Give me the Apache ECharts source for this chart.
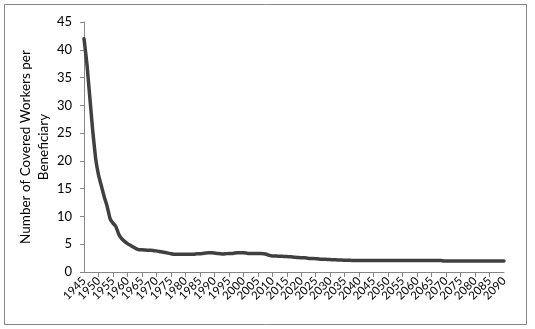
<!DOCTYPE html>
<html>
<head>
<meta charset="utf-8">
<script src="https://cdn.jsdelivr.net/npm/echarts@6/dist/echarts.min.js"></script>
<style>
html,body{margin:0;padding:0;background:#fff;}
#chart{width:535px;height:329px;}
</style>
</head>
<body>
<div id="chart"></div>
<script>
// Years 1945..2090 (yearly)
var years = [];
for (var y = 1945; y <= 2090; y++) years.push(String(y));

// Covered workers per beneficiary
var workersPerBeneficiary = [
  42.0, 37.5, 31.5, 25.5, 20.5, 17.5, 15.5, 13.5, 11.8, 9.6,   // 1945-1954
  8.8, 8.2, 6.8, 6.0, 5.5, 5.1, 4.8, 4.5, 4.2, 4.0,             // 1955-1964
  4.0, 3.95, 3.9, 3.9, 3.85, 3.8, 3.7, 3.6, 3.5, 3.4,           // 1965-1974
  3.3, 3.2, 3.2, 3.2, 3.2, 3.2, 3.2, 3.2, 3.2, 3.3,             // 1975-1984
  3.3, 3.35, 3.4, 3.45, 3.45, 3.4, 3.35, 3.3, 3.25, 3.3,        // 1985-1994
  3.35, 3.35, 3.4, 3.45, 3.45, 3.45, 3.4, 3.35, 3.35, 3.35,     // 1995-2004
  3.35, 3.35, 3.3, 3.2, 3.0, 2.9, 2.9, 2.85, 2.85, 2.8,         // 2005-2014
  2.8, 2.75, 2.7, 2.65, 2.6, 2.55, 2.55, 2.5, 2.45, 2.45,       // 2015-2024
  2.4, 2.35, 2.3, 2.3, 2.25, 2.25, 2.2, 2.2, 2.15, 2.15,        // 2025-2034
  2.1, 2.1, 2.1, 2.05, 2.05, 2.05, 2.05, 2.05, 2.05, 2.05,      // 2035-2044
  2.05, 2.05, 2.05, 2.05, 2.05, 2.05, 2.05, 2.05, 2.05, 2.05,   // 2045-2054
  2.05, 2.05, 2.05, 2.05, 2.05, 2.05, 2.05, 2.05, 2.05, 2.05,   // 2055-2064
  2.05, 2.05, 2.05, 2.05, 2.0, 1.97, 1.97, 1.97, 1.97, 1.97,    // 2065-2074
  1.97, 1.97, 1.97, 1.97, 1.97, 1.97, 1.97, 1.97, 1.97, 1.97,   // 2075-2084
  1.97, 1.97, 1.97, 1.97, 1.97, 1.97                            // 2085-2090
];

var yTicks = [0, 5, 10, 15, 20, 25, 30, 35, 40, 45];
var yTitle = 'Number of Covered Workers per\nBeneficiary';

var lastIdx = years.length - 1;
function everyFifth(i) { return i % 5 === 0; }
function endsOnly(i) { return i === 0 || i === lastIdx; }

var chart = echarts.init(document.getElementById('chart'));
var font = 'Lato, "Open Sans", sans-serif';
var labelBase = {rotate: 45, fontSize: 11.5, color: '#000', fontFamily: font, margin: 7};
chart.setOption({
  animation: false,
  backgroundColor: '#ffffff',
  graphic: [{
    type: 'rect',
    shape: {x: 4.5, y: 4.5, width: 522, height: 320},
    style: {fill: 'none', stroke: '#868686', lineWidth: 1},
    silent: true
  }],
  grid: {left: 84, right: 31, top: 22, bottom: 57},
  xAxis: [{
    type: 'category',
    data: years,
    boundaryGap: false,
    axisLine: {lineStyle: {color: '#868686', width: 1}},
    axisTick: {show: true, interval: everyFifth, length: 5, lineStyle: {color: '#868686'}},
    axisLabel: Object.assign({interval: everyFifth, showMinLabel: false, showMaxLabel: false}, labelBase)
  }, {
    type: 'category',
    data: years,
    position: 'bottom',
    boundaryGap: false,
    axisLine: {show: false},
    axisTick: {show: false},
    axisLabel: Object.assign({interval: endsOnly, showMinLabel: true, showMaxLabel: true}, labelBase)
  }],
  yAxis: {
    type: 'value',
    min: yTicks[0],
    max: yTicks[yTicks.length - 1],
    interval: 5,
    name: yTitle,
    nameLocation: 'middle',
    nameGap: 31,
    nameMoveOverlap: false,
    nameRotate: 90,
    nameTextStyle: {fontSize: 13.5, color: '#000', fontFamily: font, lineHeight: 18},
    splitLine: {show: false},
    axisLine: {show: true, lineStyle: {color: '#868686', width: 1}},
    axisTick: {show: true, length: 4, lineStyle: {color: '#868686'}},
    axisLabel: {fontSize: 13, color: '#000', fontFamily: font, margin: 12}
  },
  series: [{
    type: 'line',
    xAxisIndex: 0,
    data: workersPerBeneficiary,
    showSymbol: false,
    symbol: 'none',
    smooth: 0.1,
    lineStyle: {color: '#404040', width: 3.5, cap: 'round', join: 'round'}
  }]
});
</script>
</body>
</html>
